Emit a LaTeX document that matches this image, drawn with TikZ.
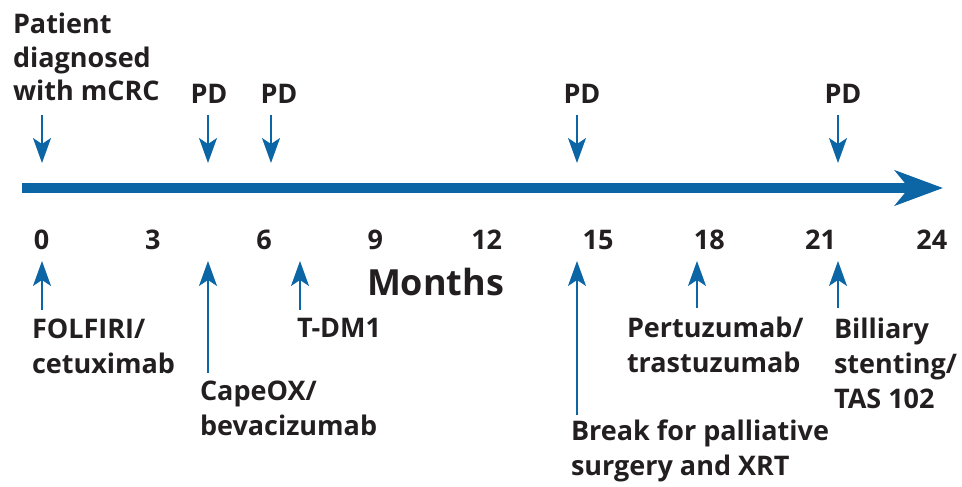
\documentclass[tikz,border=0pt]{standalone}
\usepackage{fontspec}
\setmainfont{Open Sans}
\usepackage{tikz}
\usetikzlibrary{arrows.meta,positioning}
\definecolor{timeblue}{RGB}{12,102,165}
\definecolor{labelink}{RGB}{35,31,32}
\tikzset{label node/.style={inner sep=0pt, outer sep=0pt, text=labelink,
    font=\fontsize{27}{35}\selectfont\bfseries, align=left}}
\tikzset{month node/.style={label node, anchor=base}}
\tikzset{axis edge/.style={draw=timeblue, line width=10pt,
    -{Stealth[length=48pt, width=35pt, inset=14pt]}}}
\tikzset{event edge/.style={draw=timeblue, line width=1.6pt,
    -{Stealth[length=25pt, width=18pt, inset=6pt]}}}

\begin{document}
\begin{tikzpicture}
  [x=1pt, y=-1pt]
  \useasboundingbox (0,0) rectangle (962,487);

  % time axis
  \coordinate (axis start) at ( 22,188);
  \coordinate (axis end)   at (943,188);
  \draw [axis edge] (axis start) to (axis end);

  \foreach \m in {0,3,...,24}
    \node [month node] (m\m) at ({41.5+\m*37.1},249) {\m};
  \node [label node, anchor=base west, font=\fontsize{36}{40}\selectfont\bfseries]
        (months) at (367,295) {Months};

  % progression (above the axis)
  \coordinate (d0)  at ( 42,163);
  \coordinate (d1)  at (208,163);
  \coordinate (d2)  at (271,163);
  \coordinate (d3)  at (577,163);
  \coordinate (d4)  at (838,163);
  \node [label node, anchor=base west, font=\fontsize{27}{34}\selectfont\bfseries]
        (diagnosis) at ( 13,101) {Patient\\diagnosed\\with mCRC};
  \node [label node, anchor=base]      (pd1)       at (209,103) {PD};
  \node [label node, anchor=base]      (pd2)       at (279,103) {PD};
  \node [label node, anchor=base]      (pd3)       at (582,103) {PD};
  \node [label node, anchor=base]      (pd4)       at (843,103) {PD};

  \draw [event edge, shorten <=14pt] (diagnosis.south -| d0) to (d0);
  \draw [event edge, shorten <=12pt] (pd1.base -| d1) to (d1);
  \draw [event edge, shorten <=12pt] (pd2.base -| d2) to (d2);
  \draw [event edge, shorten <=12pt] (pd3.base -| d3) to (d3);
  \draw [event edge, shorten <=12pt] (pd4.base -| d4) to (d4);

  % treatments (below the axis), placed by their last baseline
  \coordinate (u0) at ( 42,261);
  \coordinate (u1) at (208,261);
  \coordinate (u2) at (300,261);
  \coordinate (u3) at (577,261);
  \coordinate (u4) at (697,261);
  \coordinate (u5) at (838,261);
  \node [label node, anchor=base west] (folfiri)    at ( 32,373) {FOLFIRI/\\cetuximab};
  \node [label node, anchor=base west] (capeox)     at (200,435) {CapeOX/\\bevacizumab};
  \node [label node, anchor=base west] (tdm)        at (297,337) {T-DM1};
  \node [label node, anchor=base west] (break)      at (571,475) {Break for palliative\\surgery and XRT};
  \node [label node, anchor=base west] (pertuzumab) at (627,372) {Pertuzumab/\\trastuzumab};
  \node [label node, anchor=base west] (stenting)   at (834,408) {Billiary\\stenting/\\TAS 102};

  \draw [event edge, shorten <=63pt]  (folfiri.base -| u0)    to (u0);
  \draw [event edge, shorten <=62pt]  (capeox.base -| u1)     to (u1);
  \draw [event edge, shorten <=27pt]  (tdm.base -| u2)        to (u2);
  \draw [event edge, shorten <=60pt]  (break.base -| u3)      to (u3);
  \draw [event edge, shorten <=64pt]  (pertuzumab.base -| u4) to (u4);
  \draw [event edge, shorten <=100pt] (stenting.base -| u5)   to (u5);
\end{tikzpicture}
\end{document}
